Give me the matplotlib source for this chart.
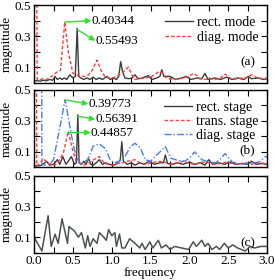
import matplotlib
matplotlib.use("Agg")
import matplotlib.pyplot as plt
from matplotlib.ticker import FixedLocator, MultipleLocator

plt.rcParams["font.family"] = ["Liberation Serif", "DejaVu Serif"]
plt.rcParams["mathtext.fontset"] = "stix"

# (a) rectangular / diagonal mode spectra
rect_mode_f = [0.0, 0.04, 0.08, 0.12, 0.16, 0.2, 0.24, 0.27, 0.3, 0.33, 0.36, 0.39, 0.42, 0.46, 0.5, 0.53,
               0.555, 0.575, 0.6, 0.64, 0.68, 0.72, 0.76, 0.8, 0.84, 0.88, 0.94, 0.98, 1.02, 1.06, 1.09,
               1.115, 1.14, 1.17, 1.22, 1.26, 1.3, 1.34, 1.4, 1.47, 1.52, 1.58, 1.62, 1.645, 1.67, 1.75,
               1.82, 1.9, 1.96, 2.02, 2.1, 2.16, 2.2, 2.24, 2.33, 2.4, 2.48, 2.55, 2.62, 2.7, 2.76, 2.8,
               2.89, 2.95, 3.0]
rect_mode_m = [0.01, 0.012, 0.01, 0.015, 0.012, 0.02, 0.015, 0.04, 0.02, 0.03, 0.02, 0.03, 0.02, 0.05, 0.03, 0.04,
               0.35, 0.04, 0.03, 0.02, 0.03, 0.02, 0.035, 0.02, 0.03, 0.02, 0.04, 0.02, 0.03, 0.02, 0.04,
               0.135, 0.07, 0.03, 0.025, 0.03, 0.05, 0.025, 0.03, 0.045, 0.02, 0.03, 0.04, 0.083, 0.04, 0.04,
               0.02, 0.03, 0.04, 0.02, 0.03, 0.025, 0.06, 0.02, 0.03, 0.02, 0.035, 0.02, 0.03, 0.02, 0.04, 0.025,
               0.03, 0.02, 0.025]
diag_mode_f = [0.0, 0.04, 0.08, 0.12, 0.16, 0.2, 0.25, 0.3, 0.34, 0.395, 0.44, 0.5, 0.55, 0.6, 0.65, 0.7,
               0.75, 0.81, 0.87, 0.92, 0.97, 1.02, 1.08, 1.15, 1.215, 1.26, 1.3, 1.36, 1.42, 1.5, 1.55, 1.6,
               1.65, 1.69, 1.75, 1.8, 1.88, 1.96, 2.0, 2.05, 2.1, 2.13, 2.2, 2.27, 2.33, 2.4, 2.46, 2.51,
               2.55, 2.62, 2.68, 2.73, 2.8, 2.86, 2.94, 3.0]
diag_mode_m = [4.0, 0.02, 0.02, 0.025, 0.02, 0.03, 0.05, 0.07, 0.08, 0.39, 0.2, 0.06, 0.05, 0.04, 0.04, 0.05,
               0.08, 0.145, 0.07, 0.035, 0.03, 0.03, 0.045, 0.07, 0.1, 0.05, 0.02, 0.025, 0.03, 0.035, 0.05, 0.07,
               0.065, 0.035, 0.025, 0.02, 0.025, 0.035, 0.04, 0.06, 0.045, 0.025, 0.02, 0.025, 0.02, 0.03, 0.055, 0.035,
               0.02, 0.025, 0.03, 0.03, 0.05, 0.035, 0.025, 0.03]

# (b) rectangular / transition / diagonal stage spectra
rect_stage_f = [0.0, 0.05, 0.1, 0.16, 0.2, 0.25, 0.3, 0.33, 0.37, 0.41, 0.44, 0.48, 0.52, 0.545, 0.563, 0.58,
                0.61, 0.64, 0.67, 0.7, 0.73, 0.76, 0.8, 0.84, 0.88, 0.92, 0.97, 1.03, 1.08, 1.11, 1.13, 1.15,
                1.2, 1.25, 1.3, 1.36, 1.42, 1.48, 1.55, 1.62, 1.665, 1.69, 1.72, 1.78, 1.85, 1.92, 2.0, 2.07,
                2.14, 2.2, 2.25, 2.3, 2.38, 2.45, 2.52, 2.6, 2.68, 2.75, 2.8, 2.86, 2.93, 3.0]
rect_stage_m = [0.01, 0.01, 0.015, 0.04, 0.015, 0.02, 0.05, 0.02, 0.07, 0.02, 0.04, 0.07, 0.02, 0.03, 0.34, 0.03,
                0.02, 0.04, 0.02, 0.06, 0.02, 0.015, 0.03, 0.05, 0.02, 0.03, 0.02, 0.015, 0.03, 0.05, 0.166, 0.04,
                0.02, 0.03, 0.015, 0.03, 0.02, 0.04, 0.02, 0.03, 0.03, 0.08, 0.025, 0.02, 0.03, 0.02, 0.035, 0.02,
                0.03, 0.015, 0.05, 0.02, 0.03, 0.02, 0.035, 0.02, 0.025, 0.02, 0.04, 0.02, 0.025, 0.02]
trans_stage_f = [0.0, 0.035, 0.08, 0.12, 0.17, 0.22, 0.27, 0.33, 0.38, 0.44, 0.5, 0.54, 0.6, 0.65, 0.71, 0.77,
                 0.84, 0.9, 0.95, 1.0, 1.07, 1.14, 1.2, 1.26, 1.3, 1.36, 1.44, 1.52, 1.6, 1.68, 1.75, 1.83,
                 1.92, 2.0, 2.08, 2.15, 2.24, 2.32, 2.4, 2.48, 2.57, 2.65, 2.73, 2.82, 2.9, 3.0]
trans_stage_m = [4.0, 0.01, 0.03, 0.057, 0.03, 0.02, 0.015, 0.05, 0.1, 0.233, 0.105, 0.04, 0.025, 0.015, 0.03, 0.05,
                 0.07, 0.03, 0.02, 0.015, 0.025, 0.03, 0.04, 0.045, 0.05, 0.03, 0.02, 0.03, 0.04, 0.035, 0.02, 0.03,
                 0.04, 0.025, 0.02, 0.035, 0.03, 0.02, 0.025, 0.035, 0.02, 0.025, 0.03, 0.02, 0.03, 0.025]
diag_stage_f = [0.085, 0.1, 0.15, 0.2, 0.25, 0.33, 0.4, 0.48, 0.54, 0.6, 0.69, 0.76, 0.84, 0.92, 0.98, 1.03,
                1.1, 1.17, 1.24, 1.3, 1.37, 1.43, 1.5, 1.58, 1.69, 1.76, 1.85, 1.94, 2.0, 2.07, 2.16, 2.26,
                2.34, 2.41, 2.46, 2.55, 2.68, 2.81, 2.9, 2.98, 3.0]
diag_stage_m = [4.0, 0.02, 0.015, 0.02, 0.05, 0.255, 0.437, 0.21, 0.07, 0.02, 0.05, 0.137, 0.152, 0.12, 0.05, 0.03,
                0.04, 0.07, 0.134, 0.156, 0.124, 0.05, 0.04, 0.08, 0.134, 0.06, 0.045, 0.04, 0.06, 0.1, 0.05, 0.035,
                0.03, 0.06, 0.09, 0.035, 0.02, 0.03, 0.035, 0.07, 0.07]

# (c) single spectrum
c_f = [0.0, 0.1, 0.18, 0.22, 0.27, 0.31, 0.36, 0.43, 0.45, 0.52, 0.57, 0.61, 0.66, 0.69, 0.72, 0.76,
       0.81, 0.84, 0.88, 0.93, 0.96, 1.0, 1.04, 1.06, 1.1, 1.13, 1.17, 1.23, 1.3, 1.36, 1.39, 1.43,
       1.49, 1.53, 1.6, 1.64, 1.7, 1.75, 1.81, 1.9, 1.99, 2.05, 2.09, 2.16, 2.2, 2.24, 2.29, 2.35,
       2.39, 2.45, 2.5, 2.56, 2.62, 2.72, 2.78, 2.84, 2.92, 3.0]
c_m = [0.1, 0.01, 0.24, 0.04, 0.12, 0.06, 0.22, 0.06, 0.17, 0.14, 0.1, 0.13, 0.03, 0.11, 0.04, 0.09,
       0.06, 0.13, 0.11, 0.08, 0.15, 0.11, 0.13, 0.04, 0.12, 0.03, 0.03, 0.09, 0.06, 0.03, 0.06, 0.02,
       0.07, 0.03, 0.08, 0.03, 0.05, 0.02, 0.04, 0.03, 0.02, 0.07, 0.04, 0.08, 0.04, 0.06, 0.02, 0.04,
       0.02, 0.06, 0.03, 0.05, 0.03, 0.01, 0.04, 0.03, 0.04, 0.04]

# (peak, text anchor, label) for the green arrows
peaks_a = [((0.395, 0.39), (0.74, 0.40), "0.40344"),
           ((0.56, 0.34), (0.79, 0.27), "0.55493")]
peaks_b = [((0.40, 0.435), (0.70, 0.41), "0.39773"),
           ((0.563, 0.33), (0.79, 0.31), "0.56391"),
           ((0.44, 0.225), (0.73, 0.225), "0.44857")]

GRAY = "#3c3c3c"
RED = "#ff3c3c"
BLUE = "#4a7fe8"
GREEN = "#33dd33"
FS = 9.5

fig = plt.figure(figsize=(2.75, 2.8), dpi=100)
left, width = 0.124, 0.847
ax_a = fig.add_axes([left, 0.705, width, 0.277])
ax_b = fig.add_axes([left, 0.402, width, 0.277])
ax_c = fig.add_axes([left, 0.098, width, 0.274])

ax_a.plot(rect_mode_f, rect_mode_m, color=GRAY, lw=1.0, label="rect. mode")
ax_a.plot(diag_mode_f, diag_mode_m, color=RED, lw=1.0, ls=(0, (2.5, 1.5)), label="diag. mode")

ax_b.plot(rect_stage_f, rect_stage_m, color=GRAY, lw=1.0, label="rect. stage")
ax_b.plot(trans_stage_f, trans_stage_m, color=RED, lw=1.0, ls=(0, (2.5, 1.5)), label="trans. stage")
ax_b.plot(diag_stage_f, diag_stage_m, color=BLUE, lw=1.0, ls=(0, (5, 1.5, 1, 1.5)), label="diag. stage")

ax_c.plot(c_f, c_m, color="#4a5252", lw=1.1)


def add_arrows(ax, peaks):
    for peak, txt_pos, label in peaks:
        ax.annotate("", xy=txt_pos, xytext=peak,
                    arrowprops=dict(arrowstyle="-|>", color=GREEN, lw=1.0,
                                    shrinkA=0, shrinkB=0, mutation_scale=8))
        ax.text(txt_pos[0], txt_pos[1], label, fontsize=FS, ha="left", va="center")


add_arrows(ax_a, peaks_a)
add_arrows(ax_b, peaks_b)

ax_a.legend(loc="upper right", bbox_to_anchor=(1.0, 0.97), frameon=False, fontsize=10,
            handlelength=2.0, handletextpad=0.3, labelspacing=0.15, borderaxespad=0.2)
ax_b.legend(loc="upper right", bbox_to_anchor=(1.0, 0.97), frameon=False, fontsize=10,
            handlelength=2.0, handletextpad=0.3, labelspacing=0.1, borderaxespad=0.2)

for ax, lab, ypos in [(ax_a, "(a)", 0.26), (ax_b, "(b)", 0.225), (ax_c, "(c)", 0.125)]:
    ax.set_xlim(0, 3.0)
    ax.set_ylim(0, 0.5)
    ax.xaxis.set_major_locator(MultipleLocator(0.5))
    ax.xaxis.set_minor_locator(MultipleLocator(0.25))
    ax.yaxis.set_major_locator(FixedLocator([0.1, 0.3, 0.5]))
    ax.yaxis.set_minor_locator(FixedLocator([0.2, 0.4]))
    ax.tick_params(which="both", direction="in", top=True, right=True, length=4, width=0.8,
                   labelsize=FS, pad=2)
    ax.set_ylabel("magnitude", fontsize=FS, labelpad=1)
    ax.text(0.95, ypos, lab, transform=ax.transAxes, fontsize=FS, ha="right", va="center")
    for sp in ax.spines.values():
        sp.set_linewidth(1.0)

ax_a.tick_params(labelbottom=False)
ax_b.tick_params(labelbottom=False)
ax_c.xaxis.set_major_formatter(plt.FuncFormatter(lambda v, p: f"{v:.1f}"))
ax_c.set_xlabel("frequency", fontsize=FS, labelpad=0)

fig.savefig("out.png", dpi=100)
